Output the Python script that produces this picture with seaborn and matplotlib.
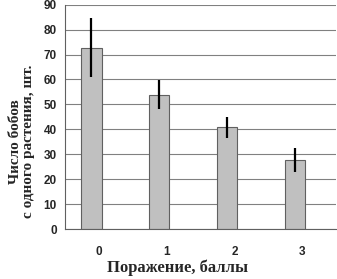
import matplotlib
matplotlib.use("Agg")
import matplotlib.pyplot as plt
import seaborn as sns
import pandas as pd
import numpy as np

categories = ["0", "1", "2", "3"]
values = [72.7, 53.9, 40.8, 27.6]
errors = [11.8, 5.7, 4.3, 4.9]
yticks = [0, 10, 20, 30, 40, 50, 60, 70, 80, 90]

sns.set_style("white")
df = pd.DataFrame({"score": categories, "count": values})

fig = plt.figure(figsize=(3.37, 2.79), dpi=100)
ax = fig.add_axes([65/337, 50/279, 271/337, 224.3/279])

sns.barplot(data=df, x="score", y="count", color="#C0C0C0", saturation=1,
            width=0.3, edgecolor="#606060", linewidth=0.8, errorbar=None, ax=ax, zorder=2)

shift = -0.11
centers = []
for p in ax.patches:
    p.set_x(p.get_x() + shift)
    centers.append(p.get_x() + p.get_width() / 2)
ax.errorbar(centers, values, yerr=errors, fmt="none", ecolor="black",
            elinewidth=1.6, capsize=0, zorder=3)

ax.set_xlim(-0.5, 3.5)
ax.set_ylim(0, 90)
ax.set_yticks(yticks)
ax.yaxis.grid(True, color="#808080", linewidth=0.8, zorder=0)
ax.set_axisbelow(True)

for s in ["top", "right"]:
    ax.spines[s].set_visible(False)
for s in ["left", "bottom"]:
    ax.spines[s].set_color("#606060")
    ax.spines[s].set_linewidth(0.8)

ax.set_xticks(range(4))
ax.set_xticklabels(categories)
ax.tick_params(axis="x", length=0, pad=12)
ax.set_xticks(np.arange(-0.5, 4.0, 1.0), minor=True)
ax.tick_params(axis="x", which="minor", length=4, direction="out", color="#606060", width=0.8)
ax.tick_params(axis="y", length=4, direction="out", color="#606060", width=0.8, pad=2)

for lbl in ax.get_xticklabels() + ax.get_yticklabels():
    lbl.set_fontfamily("Liberation Sans")
    lbl.set_fontweight("bold")
    lbl.set_fontsize(8.5)

ax.set_xlabel("Поражение, баллы", fontfamily="Liberation Serif", fontweight="bold",
              fontsize=12, labelpad=2)
ax.xaxis.set_label_coords(0.417, -0.135)
ax.set_ylabel("Число бобов\nс одного растения, шт.", fontfamily="Liberation Serif",
              fontweight="bold", fontsize=11, linespacing=1.0)
ax.yaxis.set_label_coords(-0.11, 0.39)

fig.savefig("out.png", dpi=100)
